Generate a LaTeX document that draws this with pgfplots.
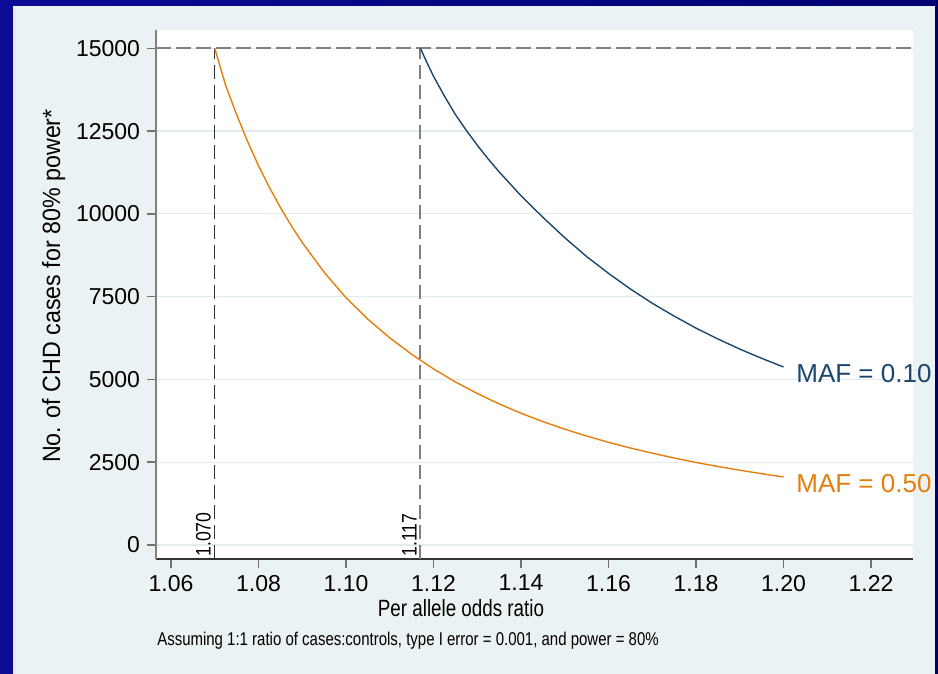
\documentclass[border=0pt]{standalone}
\usepackage{pgfplots}
\pgfplotsset{compat=1.18}
\usepackage{fontspec}
\setmainfont{Liberation Sans}
\usepackage{graphicx}
\definecolor{stblue}{RGB}{26,71,111}
\definecolor{storange}{RGB}{230,126,12}
\definecolor{panel}{RGB}{234,242,243}
\definecolor{gridc}{RGB}{226,236,239}
\definecolor{navyA}{RGB}{12,12,150}
\definecolor{navyB}{RGB}{0,0,112}
\begin{document}
\begin{tikzpicture}
\useasboundingbox (0,0) rectangle (469bp,337bp);
\shade[left color=navyA, right color=navyB] (0,0) rectangle (469bp,337bp);
\fill[panel] (6.5bp,0) rectangle (467.5bp,334bp);
\begin{axis}[
  at={(78bp,57.5bp)}, anchor=south west,
  scale only axis, width=378.5bp, height=264.5bp,
  xmin=1.05657, xmax=1.2296, ymin=-423, ymax=15553,
  axis background/.style={fill=white},
  axis lines=left, axis line style={-},
  x axis line style={draw=black!80, line width=0.9bp},
  y axis line style={draw=black!50, line width=1bp},
  xtick={1.06,1.08,1.10,1.12,1.14,1.16,1.18,1.20,1.22},
  ytick={0,2500,5000,7500,10000,12500,15000},
  scaled x ticks=false, scaled y ticks=false,
  tick align=outside, major tick length=4.5bp,
  tick style={black!55, line width=0.8bp},
  ymajorgrids, grid style={gridc, line width=0.6bp},
  ticklabel style={font=\fontsize{11.5bp}{13bp}\selectfont},
  xticklabel style={/pgf/number format/.cd, fixed, fixed zerofill, precision=2, assume math mode=true},
  yticklabel style={/pgf/number format/.cd, fixed, precision=0, set thousands separator={}, assume math mode=true},
]
\addplot[black!50, line width=1bp, dash pattern=on 7.5bp off 2.5bp] coordinates {(1.05657,15000) (1.2292,15000)};
\addplot[black!80, line width=0.7bp, dash pattern=on 7bp off 3bp] coordinates {(1.070,-423) (1.070,15000)};
\addplot[black!50, line width=1bp, dash pattern=on 7bp off 3bp] coordinates {(1.117,-423) (1.117,15000)};
\addplot[storange, line width=0.7bp] coordinates {
(1.070,15000) (1.0725,13876) (1.075,12997) (1.0775,12189) (1.080,11454) (1.0825,10796)
(1.085,10193) (1.0875,9641) (1.090,9135) (1.095,8237)
(1.100,7468) (1.105,6819) (1.110,6255) (1.115,5760) (1.120,5319) (1.125,4925)
(1.130,4574) (1.135,4261) (1.140,3979) (1.145,3726) (1.150,3497) (1.155,3290)
(1.160,3101) (1.165,2929) (1.170,2772) (1.175,2627) (1.180,2493) (1.185,2371)
(1.190,2258) (1.195,2153) (1.200,2054)};
\addplot[stblue, line width=0.7bp] coordinates {
(1.117,15000) (1.1185,14570) (1.120,14156) (1.1225,13557) (1.125,13000) (1.1275,12521)
(1.130,12074) (1.1325,11657) (1.135,11269) (1.140,10547)
(1.145,9896) (1.150,9280) (1.155,8711) (1.160,8204) (1.165,7732) (1.170,7301)
(1.175,6913) (1.180,6550) (1.185,6221) (1.190,5917) (1.195,5637) (1.200,5376)};
\end{axis}
\node[anchor=base, inner sep=0, font=\fontsize{11.75bp}{13bp}\selectfont] at (230.5bp,28.65bp) {\scalebox{0.8}[1]{Per allele odds ratio}};
\node[rotate=90, anchor=base, inner sep=0, font=\fontsize{12.5bp}{14bp}\selectfont] at (30bp,194bp) {\scalebox{0.93}[1]{No. of CHD cases for 80\% power*}};
\node[anchor=base, inner sep=0, font=\fontsize{9.25bp}{10bp}\selectfont] at (204bp,14.5bp) {\scalebox{0.81}[1]{Assuming 1:1 ratio of cases:controls, type I error = 0.001, and power = 80\%}};
\node[rotate=90, anchor=base west, inner sep=0, font=\fontsize{10.5bp}{12bp}\selectfont] at (105.35bp,58.5bp) {\scalebox{0.84}[1]{1.070}};
\node[rotate=90, anchor=base west, inner sep=0, font=\fontsize{10.5bp}{12bp}\selectfont] at (208.35bp,58.5bp) {\scalebox{0.84}[1]{1.117}};
\node[anchor=base west, inner sep=0, text=stblue, font=\fontsize{13bp}{15bp}\selectfont] at (398bp,145.5bp) {MAF = 0.10};
\node[anchor=base west, inner sep=0, text=storange, font=\fontsize{13bp}{15bp}\selectfont] at (398bp,90.5bp) {MAF = 0.50};
\end{tikzpicture}
\end{document}
